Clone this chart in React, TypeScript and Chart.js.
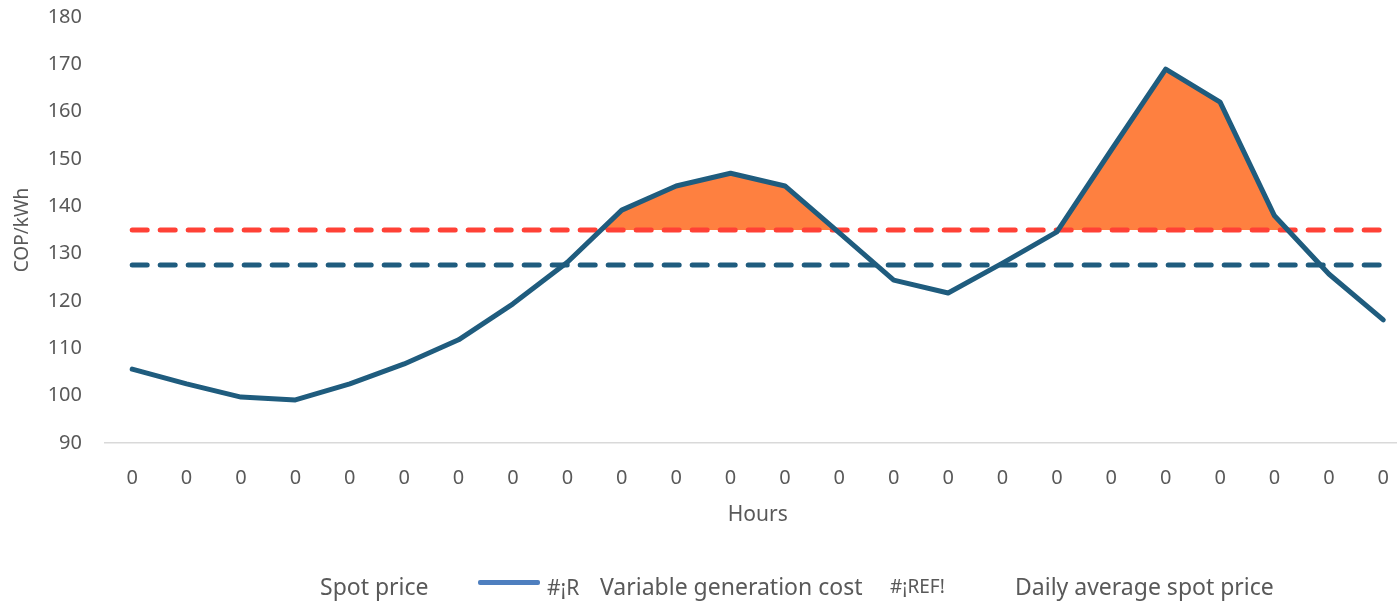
import { useEffect, useRef } from "react";
import { Chart, registerables } from "chart.js";

Chart.register(...registerables);

const hourLabels = ["0", "0", "0", "0", "0", "0", "0", "0", "0", "0", "0", "0", "0", "0", "0", "0", "0", "0", "0", "0", "0", "0", "0", "0"];

const spotPrice = [105.6, 102.5, 99.7, 99.1, 102.5, 106.7, 111.8, 119.4, 128.2, 139.2, 144.3, 147.0, 144.3, 134.4, 124.4, 121.7, 128.0, 134.6, 151.9, 169.0, 162.0, 138.0, 125.7, 116.0];

const variableGenerationCost = [135, 135, 135, 135, 135, 135, 135, 135, 135, 135, 135, 135, 135, 135, 135, 135, 135, 135, 135, 135, 135, 135, 135, 135];

const dailyAverageSpotPrice = [127.6, 127.6, 127.6, 127.6, 127.6, 127.6, 127.6, 127.6, 127.6, 127.6, 127.6, 127.6, 127.6, 127.6, 127.6, 127.6, 127.6, 127.6, 127.6, 127.6, 127.6, 127.6, 127.6, 127.6];

const yTicks = [90, 100, 110, 120, 130, 140, 150, 160, 170, 180];

const legendItems = [
  { text: "Spot price", left: 320, size: 23 },
  { text: "#¡R", left: 547, size: 21 },
  { text: "Variable generation cost", left: 600, size: 23 },
  { text: "#¡REF!", left: 890, size: 19 },
  { text: "Daily average spot price", left: 1015, size: 23 },
];

const NAVY = "#1F5C7E";
const RED = "#FF4136";
const ORANGE = "#FE8040";
const TEXT = "#595959";
const FONT = "'Noto Sans', sans-serif";

export default function App() {
  const canvasRef = useRef<HTMLCanvasElement | null>(null);

  useEffect(() => {
    const canvas = canvasRef.current;
    if (!canvas) return;
    const chart = new Chart(canvas, {
      type: "line",
      data: {
        labels: hourLabels,
        datasets: [
          {
            label: "Variable generation cost",
            data: variableGenerationCost,
            borderColor: RED,
            borderWidth: 5,
            borderDash: [15, 13],
            borderCapStyle: "round",
            pointRadius: 0,
            fill: false,
            order: 2,
          },
          {
            label: "Daily average spot price",
            data: dailyAverageSpotPrice,
            borderColor: NAVY,
            borderWidth: 5,
            borderDash: [15, 13],
            borderCapStyle: "round",
            pointRadius: 0,
            fill: false,
            order: 1,
          },
          {
            label: "Spot price",
            data: spotPrice,
            borderColor: NAVY,
            borderWidth: 5,
            borderJoinStyle: "round",
            borderCapStyle: "round",
            pointRadius: 0,
            tension: 0,
            fill: { target: 0, above: ORANGE, below: "rgba(0,0,0,0)" },
            order: 0,
          },
        ],
      },
      options: {
        responsive: false,
        animation: false,
        layout: { padding: { top: 17, right: 0, bottom: 73, left: 0 } },
        plugins: {
          legend: { display: false },
          tooltip: { enabled: false },
          filler: { drawTime: "beforeDatasetsDraw" },
        },
        scales: {
          x: {
            offset: true,
            grid: { display: false, drawTicks: false },
            border: { display: true, color: "#D9D9D9", width: 1.5 },
            ticks: {
              color: TEXT,
              font: { family: FONT, size: 20 },
              padding: 23,
              maxRotation: 0,
              autoSkip: false,
            },
            title: {
              display: true,
              text: "Hours",
              color: TEXT,
              font: { family: FONT, size: 21 },
              padding: { top: 4, bottom: 0 },
            },
            afterFit: (scale: any) => {
              scale.height = 85;
            },
          },
          y: {
            min: 90,
            max: 180,
            afterBuildTicks: (scale: any) => {
              scale.ticks = yTicks.map((v) => ({ value: v }));
            },
            grid: { display: false, drawTicks: false },
            border: { display: false },
            ticks: {
              color: TEXT,
              font: { family: FONT, size: 20 },
              padding: 23,
            },
            title: {
              display: true,
              text: "COP/kWh",
              color: TEXT,
              font: { family: FONT, size: 19 },
              padding: { top: 11, bottom: 0 },
            },
            afterFit: (scale: any) => {
              scale.width = 105;
              scale.paddingTop = 0;
              scale.paddingBottom = 0;
            },
          },
        },
      },
    });
    return () => chart.destroy();
  }, []);

  return (
    <div
      style={{
        position: "fixed",
        left: 0,
        top: 0,
        width: 1397,
        height: 601,
        overflow: "hidden",
        background: "#fff",
      }}
    >
      <canvas ref={canvasRef} width={1412} height={601} style={{ display: "block" }} />
      {legendItems.map((item) => (
        <span
          key={item.text}
          style={{
            position: "absolute",
            left: item.left,
            top: 587 - item.size * 0.68,
            fontFamily: FONT,
            fontSize: item.size,
            color: TEXT,
            whiteSpace: "nowrap",
            lineHeight: 1.36,
          }}
        >
          {item.text}
        </span>
      ))}
      <div
        style={{
          position: "absolute",
          left: 478,
          top: 580,
          width: 62,
          height: 5,
          borderRadius: 2,
          background: "#4E7FBF",
        }}
      />
    </div>
  );
}
